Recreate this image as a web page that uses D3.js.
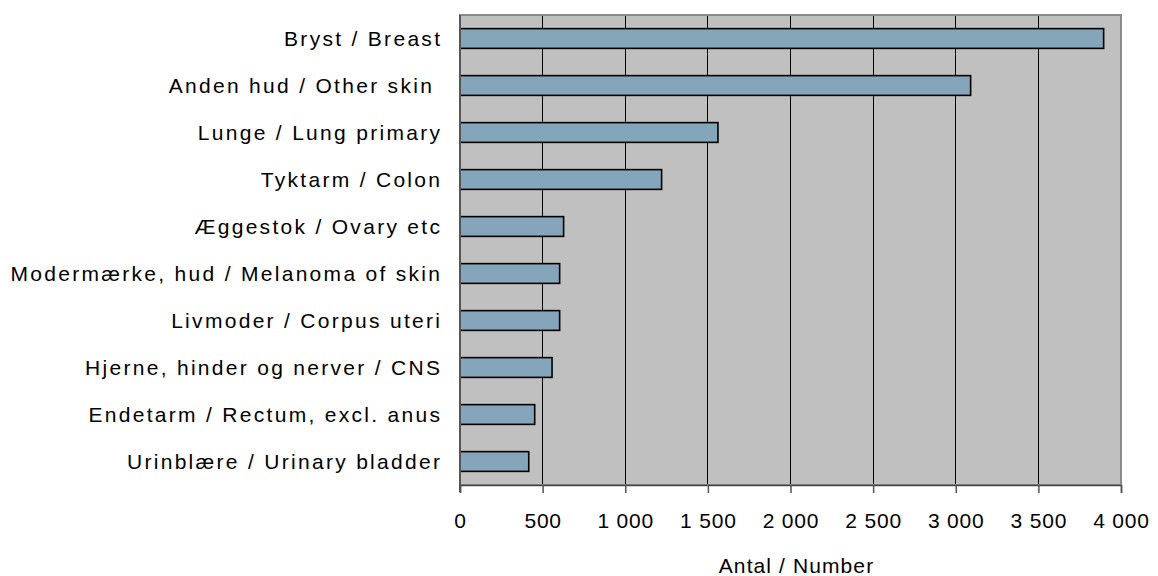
<!DOCTYPE html>
<html><head><meta charset="utf-8">
<script src="https://cdn.jsdelivr.net/npm/d3@7"></script>
<style>
html,body{margin:0;padding:0;background:#fff;}
text{font-family:"Liberation Sans",Arial,sans-serif;fill:#000;}
</style></head>
<body><svg id="c" width="1158" height="576"></svg>
<script>
const categories = ["Bryst / Breast","Anden hud / Other skin ","Lunge / Lung primary","Tyktarm / Colon","Æggestok / Ovary etc","Modermærke, hud / Melanoma of skin","Livmoder / Corpus uteri","Hjerne, hinder og nerver / CNS","Endetarm / Rectum, excl. anus","Urinblære / Urinary bladder"];
const values = [3895, 3090, 1561, 1220, 627, 603, 603, 557, 452, 416];
const tickValues = [0,500,1000,1500,2000,2500,3000,3500,4000];
const tickLabels = ["0","500","1 000","1 500","2 000","2 500","3 000","3 500","4 000"];
const axisTitle = "Antal / Number";

const svg = d3.select("#c");
const L=460, R=1121, T=15, B=485;
const x = d3.scaleLinear().domain([0,4000]).range([L,R]);
const y = d3.scaleBand().domain(categories).range([T,B]).paddingInner(0.58).paddingOuter(0.29);

svg.append("rect").attr("x",L).attr("y",T).attr("width",R-L).attr("height",B-T).attr("fill","#c0c0c0");
// gridlines
svg.append("g").selectAll("line").data(tickValues.slice(1,-1)).join("line")
  .attr("x1",d=>x(d)).attr("x2",d=>x(d)).attr("y1",T).attr("y2",B)
  .attr("stroke","#000").attr("stroke-width",1).attr("shape-rendering","crispEdges");
// border
svg.append("rect").attr("x",L).attr("y",T).attr("width",R-L).attr("height",B-T)
  .attr("fill","none").attr("stroke","#8a8a8a").attr("stroke-width",2);
// bars
svg.append("g").selectAll("rect").data(values).join("rect")
  .attr("x",x(0)).attr("y",(d,i)=>y(categories[i]))
  .attr("width",d=>x(d)-x(0)).attr("height",y.bandwidth())
  .attr("fill","#84a5ba").attr("stroke","#000").attr("stroke-width",1.6);
// left axis line
svg.append("line").attr("x1",L).attr("x2",L).attr("y1",T).attr("y2",B+7).attr("stroke","#555").attr("stroke-width",2);
// bottom axis
const xa = d3.axisBottom(x).tickValues(tickValues).tickFormat((d,i)=>tickLabels[i]).tickSize(8).tickPadding(20);
const gx = svg.append("g").attr("transform",`translate(0,${B})`).call(xa);
gx.select(".domain").attr("stroke","#444").attr("stroke-width",1.5);
gx.selectAll(".tick line").attr("stroke","#555").attr("stroke-width",1.5);
gx.selectAll(".tick text").attr("font-size","21px").attr("font-family","Liberation Sans, Arial, sans-serif").style("letter-spacing","0.8px");
// y labels
svg.append("g").selectAll("text").data(categories).join("text")
  .attr("x",L-20+2.3).attr("y",d=>y(d)+y.bandwidth()/2).attr("dy","0.36em")
  .attr("text-anchor","end").attr("font-size","21px")
  .style("letter-spacing","2.3px").style("white-space","pre").text(d=>d);
svg.append("text").attr("x",(L+R)/2+6).attr("y",573).attr("text-anchor","middle")
  .attr("font-size","21px").style("letter-spacing","1.1px").text(axisTitle);
</script></body></html>
